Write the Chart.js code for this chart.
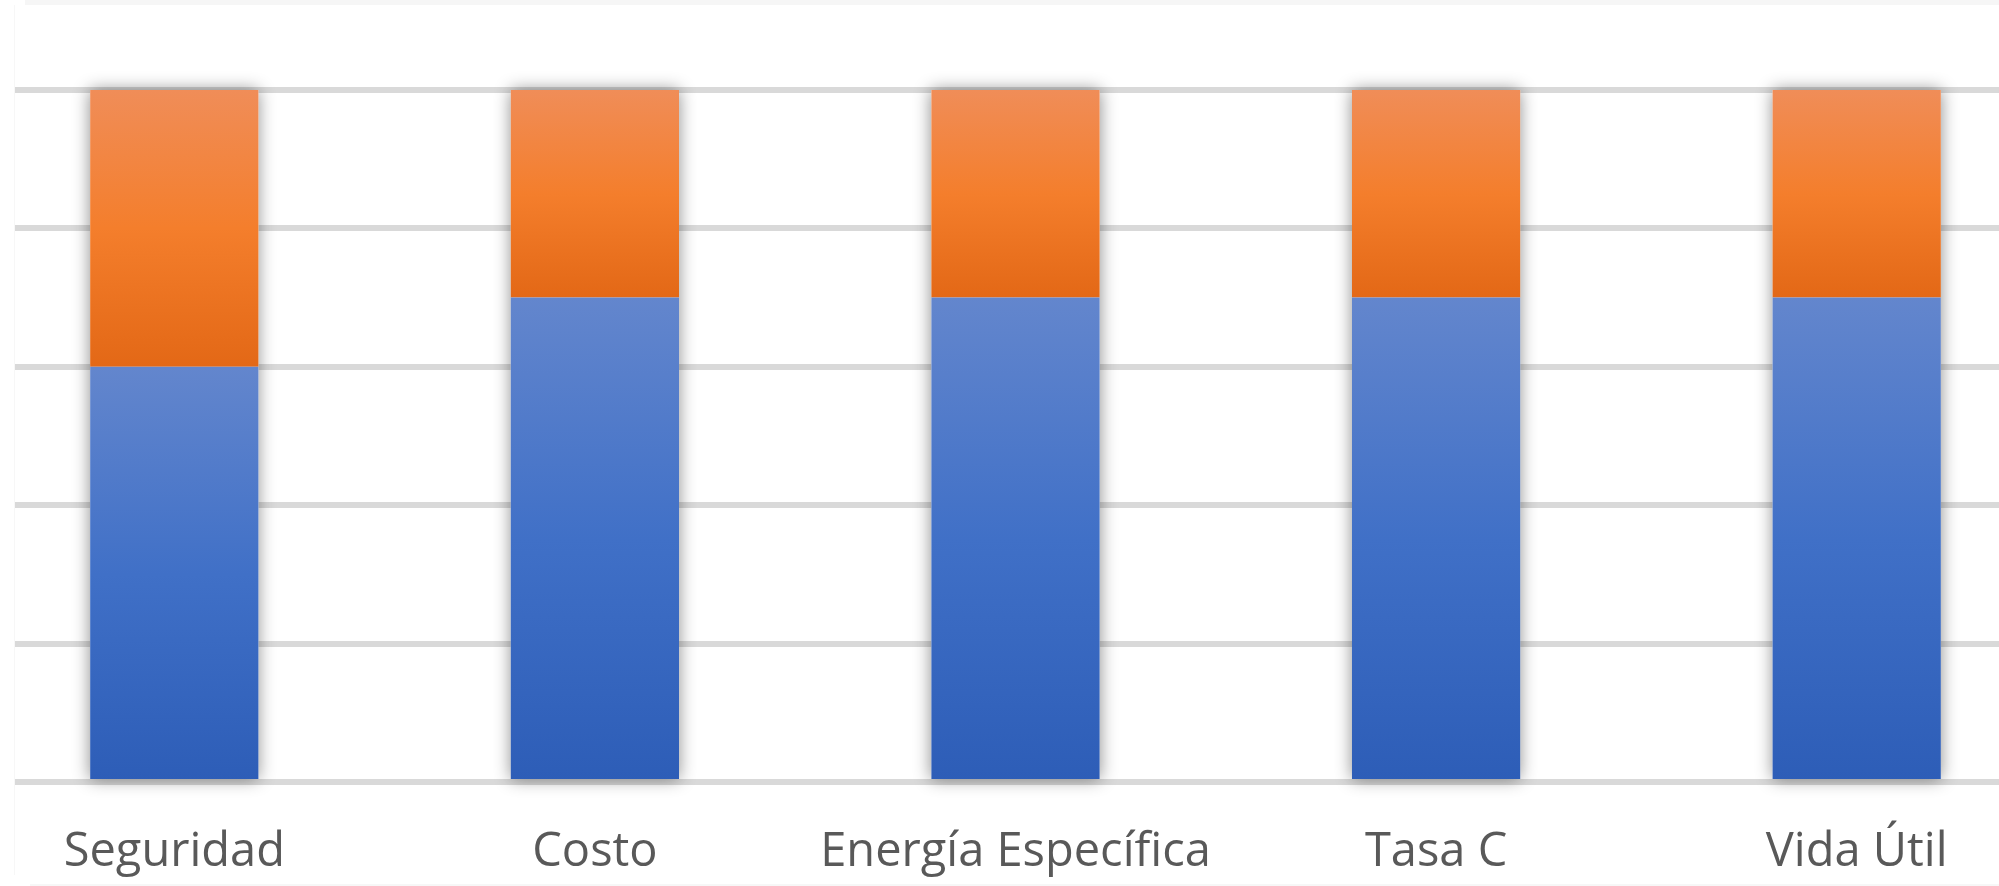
<!DOCTYPE html>
<html lang="es">
<head>
<meta charset="utf-8">
<title>Comparación de criterios</title>
<script src="https://cdn.jsdelivr.net/npm/chart.js@4/dist/chart.umd.min.js"></script>
<style>
  html, body { margin: 0; padding: 0; background: #ffffff; }
  #stage { position: relative; width: 1999px; height: 886px; overflow: hidden; background: #ffffff; }
  #plot { position: absolute; left: -36px; top: 0; width: 2103px; height: 886px; clip-path: inset(0 0 0 51px); }
  #edgeTop { position: absolute; left: 25px; top: 0; width: 1974px; height: 5px; background: #f6f6f6; }
  #edgeLeft { position: absolute; left: 14px; top: 5px; width: 1px; height: 870px; background: #f7f7f7; }
  #edgeBottom { position: absolute; left: 30px; top: 884px; width: 1969px; height: 2px; background: #f7f7f7; }
</style>
</head>
<body>
<div id="stage">
  <div id="edgeTop"></div>
  <div id="edgeLeft"></div>
  <div id="edgeBottom"></div>
  <div id="plot"><canvas id="chart"></canvas></div>
</div>
<script>
// Criteria along the horizontal axis
const categories = ['Seguridad', 'Costo', 'Energía Específica', 'Tasa C', 'Vida Útil'];
// Stacked scores for each criterion (lower blue part, upper orange part)
const blueValues = [3, 3.5, 3.5, 3.5, 3.5];
const orangeValues = [2, 1.5, 1.5, 1.5, 1.5];
// Value axis ticks (gridlines only, no labels shown)
const yTicks = [0, 1, 2, 3, 4, 5];

// Vertical gradients, light at the top of each segment and darker at its base
const blueStops = [[0, '#6386cd'], [0.5, '#4070c7'], [1, '#2d5db7']];
const orangeStops = [[0, '#f08d58'], [0.5, '#f47e2c'], [1, '#e36816']];

function segmentGradient(stops, fallback, startArr, endArr) {
  return function (ctx) {
    const chart = ctx.chart;
    const y = chart.scales && chart.scales.y;
    if (ctx.type !== 'data' || !y || !chart.chartArea) return fallback;
    const i = ctx.dataIndex;
    const top = y.getPixelForValue(endArr(i));
    const bottom = y.getPixelForValue(startArr(i));
    if (!isFinite(top) || !isFinite(bottom) || top === bottom) return fallback;
    const g = chart.ctx.createLinearGradient(0, top, 0, bottom);
    stops.forEach(function (s) { g.addColorStop(s[0], s[1]); });
    return g;
  };
}

// Soft shadow behind each whole stacked column
const columnShadow = {
  id: 'columnShadow',
  beforeDatasetsDraw(chart) {
    const lower = chart.getDatasetMeta(0).data;
    const upper = chart.getDatasetMeta(1).data;
    const ctx = chart.ctx;
    ctx.save();
    ctx.shadowColor = 'rgba(0, 0, 0, 0.45)';
    ctx.shadowBlur = 16;
    ctx.shadowOffsetX = 0;
    ctx.shadowOffsetY = 0;
    ctx.fillStyle = '#ffffff';
    lower.forEach(function (bar, i) {
      const w = bar.width;
      const top = upper[i].y;
      const bottom = bar.base;
      ctx.fillRect(bar.x - w / 2, top, w, bottom - top);
    });
    ctx.restore();
  }
};

new Chart(document.getElementById('chart'), {
  type: 'bar',
  data: {
    labels: categories,
    datasets: [
      {
        label: 'Serie 1',
        data: blueValues,
        backgroundColor: segmentGradient(blueStops, '#4472c4',
          function () { return 0; },
          function (i) { return blueValues[i]; }),
        borderWidth: 0,
        categoryPercentage: 1,
        barPercentage: 0.4
      },
      {
        label: 'Serie 2',
        data: orangeValues,
        backgroundColor: segmentGradient(orangeStops, '#ed7d31',
          function (i) { return blueValues[i]; },
          function (i) { return blueValues[i] + orangeValues[i]; }),
        borderWidth: 0,
        categoryPercentage: 1,
        barPercentage: 0.4
      }
    ]
  },
  options: {
    responsive: true,
    maintainAspectRatio: false,
    animation: false,
    devicePixelRatio: 1,
    layout: { padding: { top: 90, left: 0, right: 0, bottom: 0 } },
    plugins: {
      legend: { display: false },
      tooltip: { enabled: false },
      title: { display: false }
    },
    scales: {
      x: {
        stacked: true,
        z: 1,
        grid: { display: false, drawTicks: false },
        border: { display: true, color: '#d9d9d9', width: 6 },
        ticks: {
          autoSkip: false,
          maxRotation: 0,
          minRotation: 0,
          padding: 42,
          color: '#595959',
          font: { family: '"Open Sans", "Noto Sans", sans-serif', size: 47 }
        },
        afterFit(scale) { scale.height = 104; }
      },
      y: {
        stacked: true,
        min: yTicks[0],
        max: yTicks[yTicks.length - 1],
        afterBuildTicks(scale) { scale.ticks = yTicks.map(function (v) { return { value: v }; }); },
        grid: { color: '#d9d9d9', lineWidth: 6, drawTicks: false },
        border: { display: false },
        ticks: { display: false },
        afterFit(scale) { scale.width = 0; }
      }
    }
  },
  plugins: [columnShadow]
});
</script>
</body>
</html>
